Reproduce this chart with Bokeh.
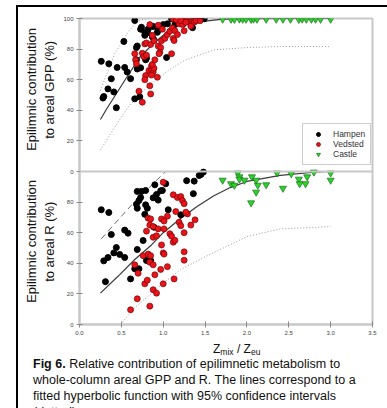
from bokeh.plotting import figure
from bokeh.models import (Range1d, FixedTicker, Legend, LegendItem, Span, Div,
                          PrintfTickFormatter)
from bokeh.layouts import column, row
from bokeh.embed import file_html
from bokeh.resources import INLINE

# ---------------- data: top panel (contribution to areal GPP, %) ----------------
gpp_hampen_x = [0.26, 0.35, 0.45, 0.38, 0.34, 0.29, 0.28, 0.41, 0.44, 0.54, 0.57, 0.61,
                0.66, 0.72, 0.53, 0.66, 0.68, 0.69, 0.68, 0.73, 0.69, 0.79, 0.80, 0.74,
                0.73, 0.78, 0.81, 0.78, 0.82, 0.87, 0.89, 0.88, 0.93, 0.94, 0.95, 1.00,
                1.05, 1.04, 1.14, 1.24, 1.35, 1.36, 1.41, 1.10, 1.27, 1.45, 1.49]
gpp_hampen_y = [72, 70.4, 68, 60.6, 54, 49, 48, 52, 41.7, 68, 65, 60.7,
                47.5, 48.8, 85, 98.7, 81, 82, 73, 67.8, 67, 73, 74, 94.3,
                93, 89, 90.6, 91, 93, 88, 86, 94.8, 91, 92.5, 95, 96,
                96.5, 74.5, 96, 96.5, 94, 99, 99, 99.8, 99.8, 99.8, 99.8]

gpp_vedsted_x = [0.84, 0.66, 0.67, 0.71, 0.75, 0.85, 0.84, 0.79, 0.83, 0.86, 0.88, 0.86,
                 0.89, 0.93, 0.87, 0.75, 0.77, 0.80, 0.78, 0.80, 0.85, 0.89, 0.94, 0.97,
                 0.96, 0.98, 1.02, 1.05, 1.08, 1.10, 1.11, 1.14, 1.17, 1.12, 0.99, 0.94,
                 0.87, 1.19, 1.12, 0.78, 0.86, 0.68, 0.90, 0.95, 1.13, 1.23, 1.25, 1.29,
                 1.31, 1.35, 1.37, 1.39, 1.23, 1.16, 1.21, 1.27, 1.33, 1.44]
gpp_vedsted_y = [96, 77, 73, 52.5, 45.3, 50.7, 56, 62.7, 66, 66.4, 65, 69,
                 67.5, 61.6, 70, 77.3, 75, 76, 83.4, 84, 83, 85.5, 82, 81,
                 78, 85.5, 87, 89.5, 91.7, 77, 93.8, 92, 89.5, 87, 93, 95.6,
                 89, 96.5, 99.7, 60, 63, 70.4, 73, 77, 85.6, 98.7, 92, 99,
                 97.6, 98, 97.6, 98.7, 96, 99, 98.7, 97.5, 95, 98.5]

gpp_castle_x = [1.71, 1.81, 1.85, 1.91, 1.95, 1.99, 2.05, 2.08, 2.12, 2.23, 2.35, 2.43,
                2.52, 2.62, 2.66, 2.71, 2.77, 2.82, 2.88, 3.00]
gpp_castle_y = [99.5, 99.5, 99.4, 99.6, 99.5, 99.5, 99.4, 99.6, 99.5, 99.5, 99.5, 99.5,
                99.5, 99.4, 99.6, 99.5, 99.5, 99.5, 99.5, 99.5]

gpp_fit_x = [0.25, 0.32, 0.54, 0.72, 0.88, 1.13, 1.40, 1.71, 2.00, 2.50, 3.00]
gpp_fit_y = [34, 40.5, 59.5, 74.7, 83.5, 95.0, 97.6, 99.6, 99.9, 100, 100]
gpp_upper_x = [0.25, 0.42, 0.58, 0.70, 0.83]
gpp_upper_y = [53, 77, 91, 98.7, 100]
gpp_lower_x = [0.25, 0.42, 0.58, 0.82, 1.06, 1.25, 1.45, 1.61, 2.00, 2.40, 3.00]
gpp_lower_y = [14, 29, 42, 56, 66, 72.5, 76.5, 79.5, 81, 81.7, 81.7]

# ---------------- data: bottom panel (contribution to areal R, %) ----------------
r_hampen_x = [0.26, 0.35, 0.38, 0.29, 0.34, 0.41, 0.44, 0.48, 0.54, 0.54, 0.58, 0.31,
              0.61, 0.66, 0.71, 0.69, 0.76, 0.69, 0.74, 0.79, 0.73, 0.71, 0.68, 0.69,
              0.79, 0.81, 0.78, 0.88, 0.94, 0.90, 0.97, 0.92, 1.03, 0.89, 0.85, 1.06,
              1.28, 1.37, 1.36, 1.43, 1.45, 1.48, 1.21, 0.80, 0.99]
r_hampen_y = [75, 73.2, 58.8, 41.6, 43.8, 46.8, 50.3, 45.8, 43.8, 61.7, 59.7, 28,
              29.8, 36.4, 36.4, 49, 54.9, 87, 87, 87.6, 83, 81, 78.6, 76,
              78.2, 76, 72, 82.8, 81.3, 91.3, 87.4, 85, 92, 63.6, 41.8, 75,
              94, 93.7, 85.5, 97.4, 98, 99.6, 71.7, 41.8, 87.6]

r_vedsted_x = [0.61, 0.69, 0.84, 0.88, 0.92, 0.66, 0.70, 0.78, 0.81, 0.76, 0.82, 0.85,
               0.84, 0.88, 0.90, 0.97, 1.00, 0.98, 1.01, 0.88, 0.80, 0.82, 0.85, 0.84,
               0.88, 0.94, 0.92, 0.98, 1.00, 1.05, 1.08, 1.10, 1.12, 1.14, 1.12, 1.17,
               1.21, 1.23, 1.15, 1.19, 1.21, 1.25, 1.29, 1.33, 1.00, 1.13, 1.05, 1.25,
               1.25, 1.38, 1.27, 1.01, 1.01, 1.25]
r_vedsted_y = [9.6, 16.8, 12, 22.7, 20.5, 39, 33.5, 26.6, 29, 45, 46, 45,
               40.7, 39, 32.5, 36, 46.8, 52, 46, 57, 61, 69.5, 69, 65,
               64, 62.5, 58, 69, 93, 70.8, 59.3, 57.7, 53.8, 55, 84.8, 83,
               83.6, 81, 73.8, 66.9, 64.6, 60, 72.3, 65, 26.6, 29.8, 37.8, 47.5,
               42, 68.4, 73.4, 62.5, 67.6, 79]

r_castle_x = [1.71, 1.81, 1.85, 1.89, 1.91, 1.91, 1.97, 2.05, 2.06, 2.11, 2.11, 2.13,
              2.23, 2.36, 2.43, 2.53, 2.62, 2.63, 2.70, 2.72, 2.80, 3.00, 3.00]
r_castle_y = [94.3, 92, 91, 99, 96.5, 95, 94.3, 79.5, 96.5, 94.3, 86.5, 91,
              91.3, 99, 89, 98.5, 95, 92, 92, 96.5, 99.6, 99, 94.3]

r_fit_x = [0.25, 0.46, 0.66, 0.86, 1.00, 1.20, 1.40, 1.60, 1.80, 2.00, 2.40, 2.80, 3.00]
r_fit_y = [20.5, 31.5, 42.5, 52, 60, 69, 77, 84, 89.5, 93.5, 97.5, 99.5, 100]
r_upper_x = [0.26, 0.62, 0.98, 1.03]
r_upper_y = [56, 78, 97.4, 100]
r_lower_x = [0.49, 0.66, 0.82, 1.00, 1.21, 1.53, 2.00, 2.40, 3.00]
r_lower_y = [0, 11, 18.5, 27, 36, 45, 57.5, 62.5, 64]

x_ticks = [0.0, 0.5, 1.0, 1.5, 2.0, 2.5, 3.0, 3.5]
y_ticks = [0, 20, 40, 60, 80, 100]
series_names = ["Hampen", "Vedsted", "Castle"]
y_title_gpp = ["Epilimnic contribution", "to areal GPP (%)"]
y_title_r = ["Epilimnic contribution", "to areal R (%)"]
caption_lines = ["<b>Fig 6.</b> Relative contribution of epilimnetic metabolism to",
                 "whole-column areal GPP and R. The lines correspond to a",
                 "fitted hyperbolic function with 95% confidence intervals",
                 "(dotted)."]

FONT = "Liberation Sans"
CSS_FONT = "font-family:'Liberation Sans',Arial,sans-serif;"
GRAY = "#c8c8c8"

p = figure(width=327, height=341, x_range=Range1d(0, 3.5), y_range=Range1d(0, 200),
           output_backend="svg", toolbar_location=None,
           min_border_left=18, min_border_right=15, min_border_top=18, min_border_bottom=17)
# the upper (GPP) panel uses its own range so that 0..100 fills the upper half
p.extra_y_ranges = {"gpp": Range1d(-100, 100)}

p.background_fill_color = "white"
p.border_fill_color = "white"
p.outline_line_color = GRAY
p.outline_line_width = 2
p.grid.visible = False

p.xaxis.ticker = FixedTicker(ticks=x_ticks)
p.xaxis.formatter = PrintfTickFormatter(format="%.1f")
lab_ticks = list(y_ticks) + [t + 100 for t in y_ticks[1:]]
p.yaxis.ticker = FixedTicker(ticks=lab_ticks)
p.yaxis.major_label_overrides = {t + 100: str(t) for t in y_ticks}
for ax in (p.xaxis[0], p.yaxis[0]):
    ax.axis_line_color = GRAY
    ax.axis_line_width = 2
    ax.major_tick_line_color = "#8a8a8a"
    ax.major_tick_in = 3
    ax.major_tick_out = 3
    ax.minor_tick_line_color = None
    ax.major_label_text_font = FONT
    ax.major_label_text_font_size = "6px"
    ax.major_label_text_color = "#444444"
    ax.major_label_standoff = 3

p.add_layout(Span(location=100, dimension="width", line_color=GRAY, line_width=2))

# fitted lines with 95% confidence bands
p.line(gpp_fit_x, gpp_fit_y, y_range_name="gpp", line_color="#3a3a3a", line_width=1.2)
p.line(gpp_upper_x, gpp_upper_y, y_range_name="gpp", line_color="#9a9a9a",
       line_width=1, line_dash="1 2")
p.line(gpp_lower_x, gpp_lower_y, y_range_name="gpp", line_color="#9a9a9a",
       line_width=1, line_dash="1 2")
p.line(r_fit_x, r_fit_y, line_color="#3a3a3a", line_width=1.2)
p.line(r_upper_x, r_upper_y, line_color="#6a6a6a", line_width=1, line_dash="6 4")
p.line(r_lower_x, r_lower_y, line_color="#9a9a9a", line_width=1, line_dash="1 2")

# points
rh = p.scatter(gpp_hampen_x, gpp_hampen_y, y_range_name="gpp", marker="circle", size=6,
               fill_color="black", line_color="black")
rv = p.scatter(gpp_vedsted_x, gpp_vedsted_y, y_range_name="gpp", marker="circle", size=6,
               fill_color="#e8141c", line_color="#7a0000", line_width=0.7)
rc = p.scatter(gpp_castle_x, gpp_castle_y, y_range_name="gpp", marker="inverted_triangle",
               size=7, fill_color="#2bd42b", line_color="#1a6e1a", line_width=0.7)
p.scatter(r_hampen_x, r_hampen_y, marker="circle", size=6,
          fill_color="black", line_color="black")
p.scatter(r_vedsted_x, r_vedsted_y, marker="circle", size=6,
          fill_color="#e8141c", line_color="#7a0000", line_width=0.7)
p.scatter(r_castle_x, r_castle_y, marker="inverted_triangle", size=7,
          fill_color="#2bd42b", line_color="#1a6e1a", line_width=0.7)

legend = Legend(items=[LegendItem(label=series_names[0], renderers=[rh]),
                       LegendItem(label=series_names[1], renderers=[rv]),
                       LegendItem(label=series_names[2], renderers=[rc])],
                location=(223, 159))
legend.border_line_color = "#9a9a9a"
legend.border_line_width = 1
legend.background_fill_color = "white"
legend.background_fill_alpha = 1
legend.label_text_font = FONT
legend.label_text_font_size = "8.5px"
legend.label_text_color = "#333333"
legend.glyph_width = 20
legend.glyph_height = 10
legend.label_height = 10
legend.spacing = 0
legend.padding = 5
legend.margin = 0
legend.label_standoff = 5
p.add_layout(legend)


def vtitle(lines, top):
    return ('<div style="position:absolute;left:0;top:%dpx;width:60px;height:153px;'
            'display:flex;align-items:center;justify-content:flex-start;padding-left:23px;'
            'box-sizing:border-box;">'
            '<div style="writing-mode:vertical-rl;transform:rotate(180deg);text-align:center;'
            'line-height:18px;font-size:13px;white-space:nowrap;color:#111;%s">%s</div></div>'
            % (top, CSS_FONT, "<br>".join(lines)))


ytitles = Div(text=('<div style="position:relative;width:60px;height:341px;">'
                    + vtitle(y_title_gpp, 13) + vtitle(y_title_r, 165) + '</div>'),
              width=60, height=341, margin=0)

xtitle = Div(text=('<div style="padding-left:213px;font-size:12px;line-height:12px;'
                   'white-space:nowrap;color:#111;%s">Z<span style="font-size:8.5px;'
                   'vertical-align:-2px;">mix</span> / Z<span style="font-size:8.5px;'
                   'vertical-align:-2px;">eu</span></div>' % CSS_FONT),
             width=387, height=15, margin=0)

caption = Div(
    text=('<div style="position:fixed;left:16px;top:5px;width:400px;height:420px;'
          'border-left:2px solid #000;border-top:2px solid #000;pointer-events:none;"></div>'
          '<div style="padding-left:33px;margin-top:0;font-size:12.5px;line-height:16px;'
          'white-space:nowrap;color:#111;%s">%s</div>' % (CSS_FONT, "<br>".join(caption_lines))),
    width=387, height=52, margin=0)

layout = column(row(ytitles, p), xtitle, caption)

open("out.html", "w").write(file_html(layout, INLINE))
